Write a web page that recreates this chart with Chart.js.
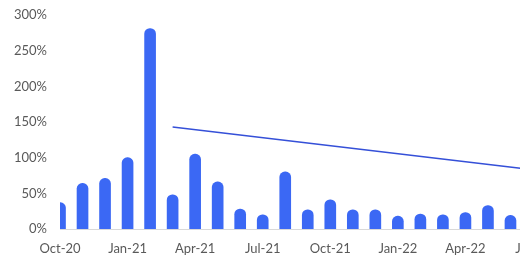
<!DOCTYPE html>
<html lang="en">
<head>
  <meta charset="UTF-8" />
  <title>Monthly ratio</title>
  <script src="https://cdn.jsdelivr.net/npm/chart.js"></script>
  <style>
    html, body {
      margin: 0;
      padding: 0;
      background: #fff;
      overflow: hidden;
    }
    #wrap {
      width: 520px;
      height: 272px;
      overflow: hidden;
    }
  </style>
</head>
<body>
  <div id="wrap">
    <canvas id="chart" width="600" height="272"></canvas>
  </div>

  <script>
    // monthly categories (last one runs off the right edge in the original)
    const months = [
      "Oct-20", "Nov-20", "Dec-20", "Jan-21", "Feb-21", "Mar-21",
      "Apr-21", "May-21", "Jun-21", "Jul-21", "Aug-21", "Sep-21",
      "Oct-21", "Nov-21", "Dec-21", "Jan-22", "Feb-22", "Mar-22",
      "Apr-22", "May-22", "Jun-22", "Jul-22"
    ];

    // bar values, in percent
    const monthlyPct = [
      37, 64, 71, 100, 281, 48,
      105, 66, 28, 20, 80, 27,
      41, 27, 27, 18, 21, 20,
      23, 33, 19, null
    ];

    // trend line: only its two end points, joined across the gaps
    const trendPct = [
      null, null, null, null, null, 143,
      null, null, null, null, null, null,
      null, null, null, null, null, null,
      null, null, null, 83
    ];

    const yTicks = [0, 50, 100, 150, 200, 250, 300];

    const textColor = "#595959";
    const font = { family: "Lato, 'Open Sans', sans-serif", size: 13 };

    new Chart(document.getElementById("chart"), {
      type: "bar",
      data: {
        labels: months,
        datasets: [
          {
            type: "line",
            data: trendPct,
            borderColor: "#3550d8",
            borderWidth: 1.5,
            pointRadius: 0,
            spanGaps: true,
            fill: false
          },
          {
            data: monthlyPct,
            backgroundColor: "#3b68f4",
            barThickness: 11,
            borderRadius: 6,
            borderSkipped: "start"
          }
        ]
      },
      options: {
        responsive: false,
        animation: false,
        layout: {
          padding: { top: 15, right: 67, bottom: 0, left: 0 }
        },
        plugins: {
          legend: { display: false },
          tooltip: { enabled: false }
        },
        scales: {
          x: {
            offset: false,
            grid: { display: false, drawTicks: false },
            border: { display: true, color: "#d9d9d9", width: 1 },
            ticks: {
              autoSkip: false,
              maxRotation: 0,
              padding: 12,
              color: textColor,
              font,
              callback: function (val, i) {
                return i % 3 === 0 ? months[i] : "";
              }
            },
            afterFit: s => { s.height = 43; }
          },
          y: {
            min: 0,
            max: 300,
            grid: { display: false, drawTicks: false },
            border: { display: false },
            afterBuildTicks: s => { s.ticks = yTicks.map(v => ({ value: v })); },
            ticks: {
              padding: 13,
              color: textColor,
              font,
              callback: v => v + "%"
            },
            afterFit: s => {
              s.width = 60;
              s.paddingTop = 8;
              s.paddingBottom = 8;
            }
          }
        }
      }
    });
  </script>
</body>
</html>
